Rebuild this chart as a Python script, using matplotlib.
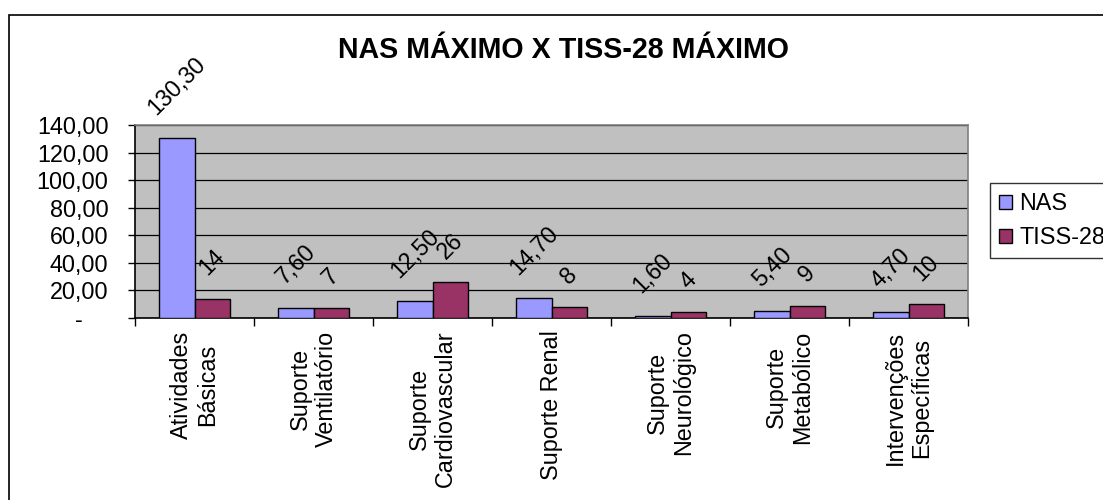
import matplotlib
matplotlib.use("Agg")
import matplotlib.pyplot as plt
from matplotlib.patches import Rectangle
import numpy as np

plt.rcParams["font.family"] = ["Liberation Sans", "DejaVu Sans"]

categories = [
    "Atividades\nBásicas",
    "Suporte\nVentilatório",
    "Suporte\nCardiovascular",
    "Suporte Renal",
    "Suporte\nNeurológico",
    "Suporte\nMetabólico",
    "Intervenções\nEspecíficas",
]
nas_values = [130.30, 7.60, 12.50, 14.70, 1.60, 5.40, 4.70]
tiss_values = [14, 7, 26, 8, 4, 9, 10]
series_names = ["NAS", "TISS-28"]
y_ticks = [0, 20, 40, 60, 80, 100, 120, 140]

NAS_COLOR = "#9999FF"
TISS_COLOR = "#993366"
FS = 16.8

fig = plt.figure(figsize=(11.03, 5.0), dpi=100)

# outer chart frame (right/bottom edges fall outside the image)
fig.patches.append(Rectangle((9 / 1103, -0.05), 1.2, 1 - 15 / 500 + 0.05,
                             transform=fig.transFigure, fill=False,
                             edgecolor="black", linewidth=1.2))

ax = fig.add_axes([135 / 1103, 1 - 318 / 500, (968 - 135) / 1103, (318 - 125) / 500])
ax.set_facecolor("#C0C0C0")

x = np.arange(len(categories))
width = 0.295
bars_nas = ax.bar(x - width / 2, nas_values, width, color=NAS_COLOR,
                  edgecolor="black", linewidth=1.0, label=series_names[0], zorder=3)
bars_tiss = ax.bar(x + width / 2, tiss_values, width, color=TISS_COLOR,
                   edgecolor="black", linewidth=1.0, label=series_names[1], zorder=3)

for bar, v in zip(bars_nas, nas_values):
    ax.annotate(f"{v:.2f}".replace(".", ","),
                (bar.get_x() + bar.get_width() / 2, bar.get_height()),
                xytext=(0, 13.5), textcoords="offset points",
                ha="center", va="bottom", rotation=45, fontsize=FS,
                annotation_clip=False)
for bar, v in zip(bars_tiss, tiss_values):
    ax.annotate(f"{v}",
                (bar.get_x() + bar.get_width() / 2, bar.get_height()),
                xytext=(0, 13.5), textcoords="offset points",
                ha="center", va="bottom", rotation=45, fontsize=FS,
                annotation_clip=False)

ax.set_xlim(-0.5, len(categories) - 0.5)
ax.set_ylim(0, 140)

ax.set_yticks(y_ticks)
ax.set_yticklabels(["-    "] + [f"{t:.2f}".replace(".", ",") for t in y_ticks[1:]],
                   fontsize=FS)
ax.tick_params(axis="y", length=5, width=1, pad=14, direction="out")

ax.set_xticks(x)
ax.set_xticklabels(categories, rotation=90, fontsize=FS, ha="center", va="top",
                   multialignment="center")
ax.tick_params(axis="x", which="major", length=0, pad=9)
ax.set_xticks(np.arange(-0.5, len(categories) + 0.5, 1), minor=True)
ax.tick_params(axis="x", which="minor", length=6, width=1, direction="out")

ax.yaxis.grid(True, color="black", linewidth=0.9, zorder=0)
ax.set_axisbelow(True)

for side in ("top", "right"):
    ax.spines[side].set_color("#808080")
    ax.spines[side].set_linewidth(1.2)
for side in ("left", "bottom"):
    ax.spines[side].set_color("black")
    ax.spines[side].set_linewidth(1.2)

fig.text(563 / 1103, 1 - 50 / 500, "NAS MÁXIMO X TISS-28 MÁXIMO",
         ha="center", va="center", fontsize=20.6, fontweight="bold")

leg = fig.legend(loc="upper left", bbox_to_anchor=(990 / 1103, 1 - 183 / 500),
                 fontsize=FS, frameon=True, fancybox=False, edgecolor="black",
                 handlelength=0.55, handleheight=0.55, handletextpad=0.3,
                 labelspacing=0.45, borderpad=0.4, borderaxespad=0)
leg.get_frame().set_linewidth(1.0)
for h in leg.legend_handles:
    h.set_edgecolor("black")
    h.set_linewidth(1.0)

fig.savefig("out.png", dpi=100)
